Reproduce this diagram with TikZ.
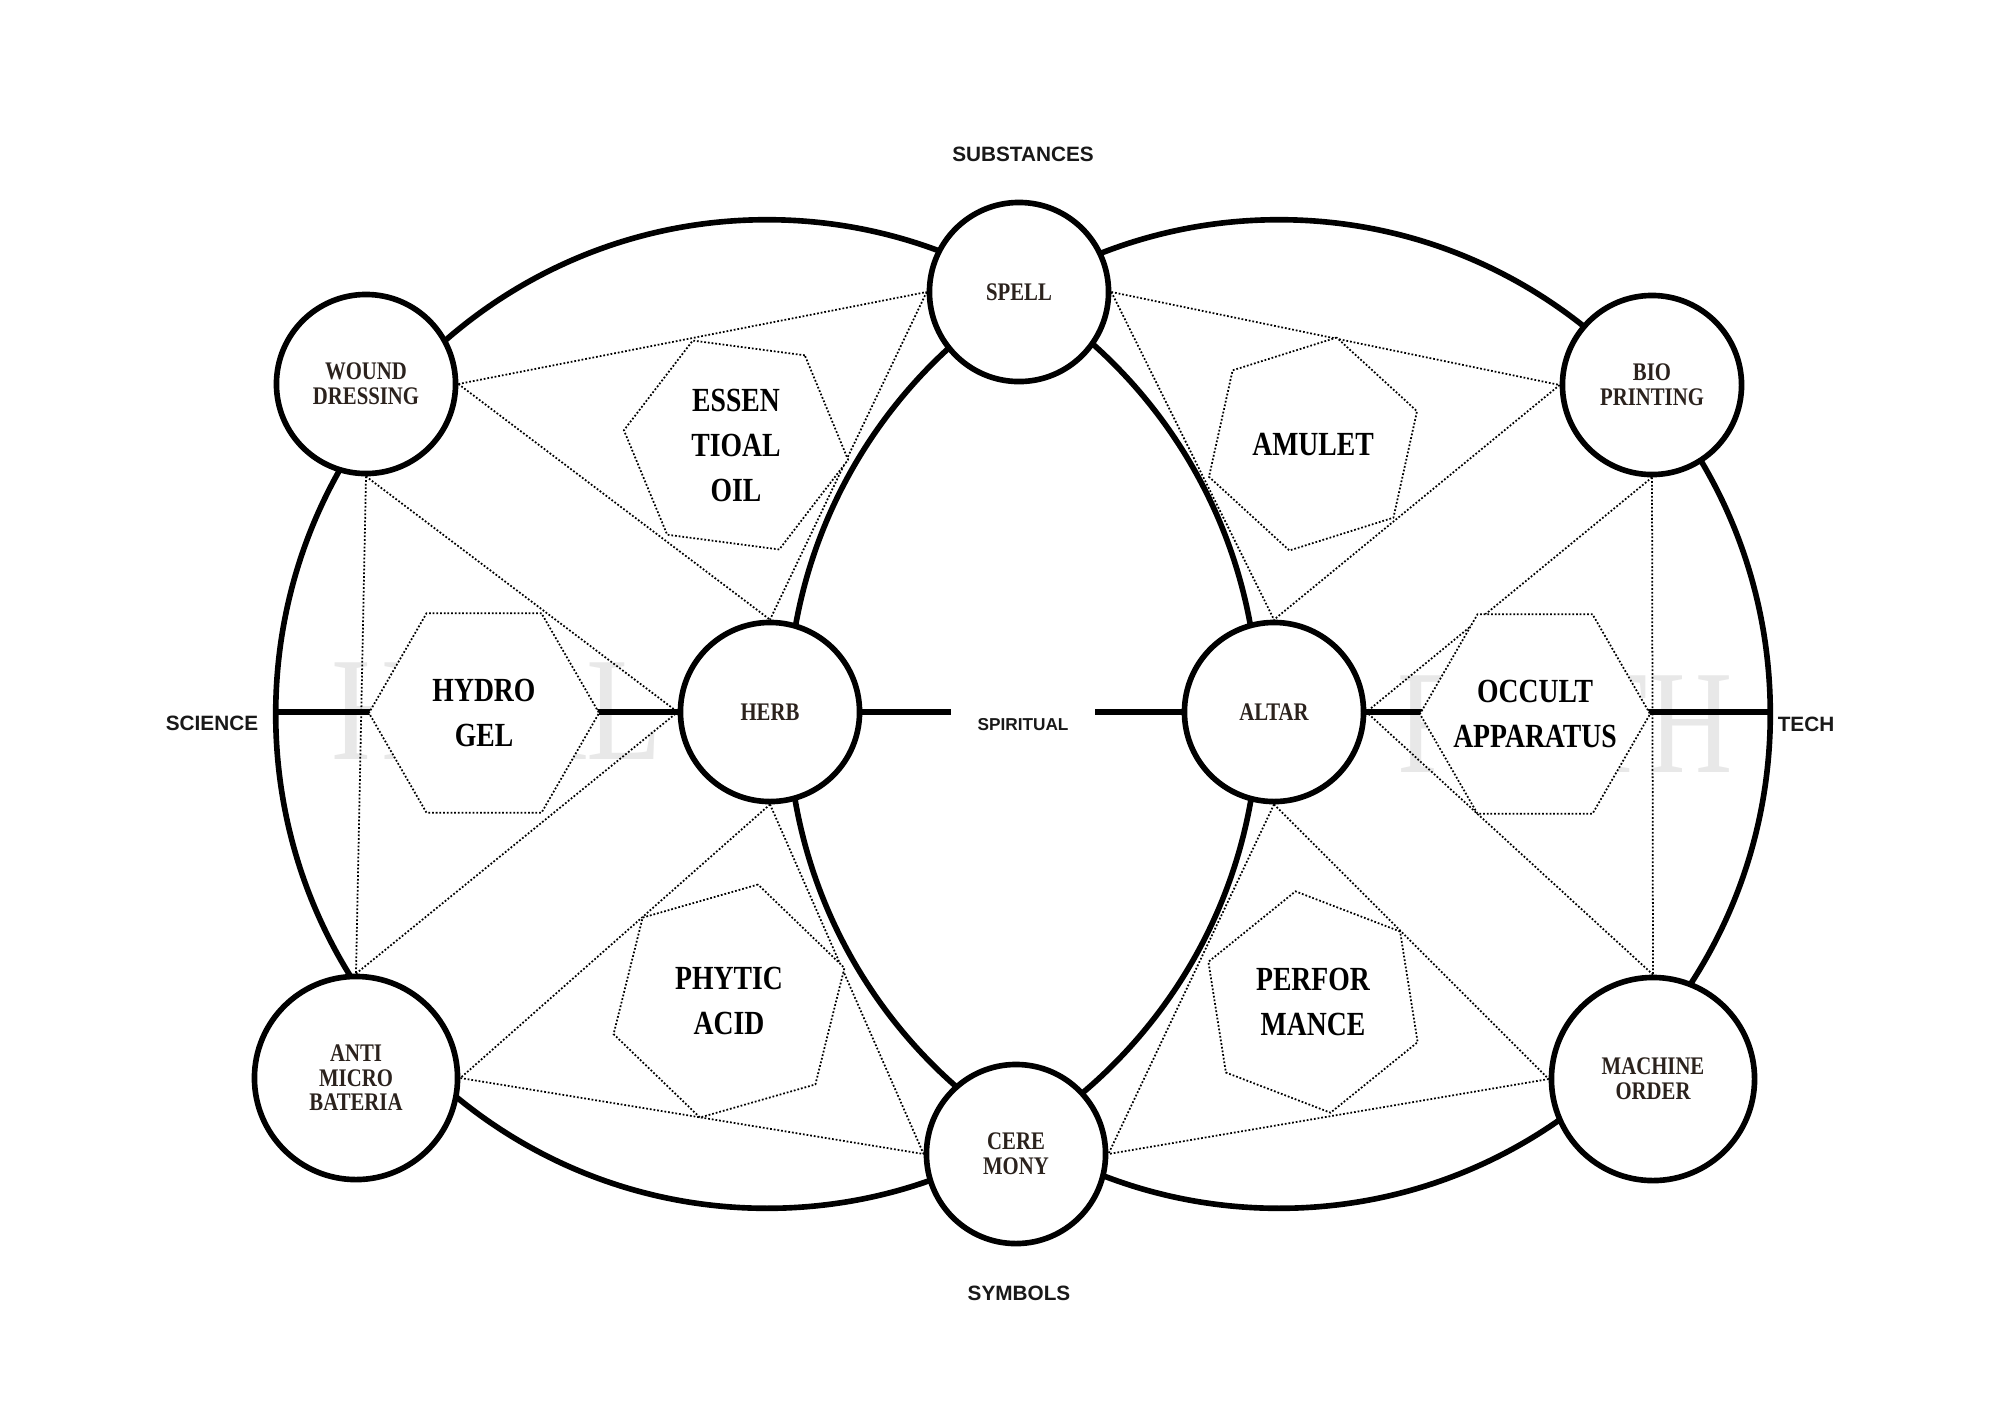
\documentclass[tikz,border=0pt]{standalone}
\usepackage{fontspec}
\usepackage[svgnames]{xcolor}
\usepackage{graphicx}
\usepackage{tikz}
\usetikzlibrary{shapes.geometric}
\newfontfamily\tagfont[FakeStretch=0.82]{Liberation Serif}
\newfontfamily\markfont{Liberation Serif}
\newfontfamily\axisfont{Liberation Sans}
\definecolor{inkbrown}{HTML}{2B221D}
\definecolor{ghostgrey}{HTML}{E8E8E8}
\pgfdeclarelayer{marklayer}
\pgfdeclarelayer{edgelayer}
\pgfdeclarelayer{hexlayer}
\pgfdeclarelayer{nodelayer}
\pgfsetlayers{marklayer,edgelayer,hexlayer,nodelayer,main}
\tikzset{
	thickline/.style={line width=1.6pt},
	dotline/.style={line width=0.5pt, dash pattern=on 0.5pt off 0.55pt},
	hub/.style={circle, draw, line width=1.6pt, fill=white, inner sep=0pt, minimum size=1.79cm, align=center, text=inkbrown, font=\tagfont\bfseries\fontsize{7.2}{7}\selectfont},
	bighub/.style={hub, minimum size=2.03cm},
	hexa/.style={regular polygon, regular polygon sides=6, draw, dotline, fill=white, inner sep=-12pt, minimum size=2.3cm, align=center, font=\tagfont\bfseries\fontsize{9.6}{12.8}\selectfont},
	axis/.style={inner sep=0pt, text=black!90, font=\axisfont\bfseries\fontsize{5.9}{6}\selectfont},
	ghost/.style={inner sep=0pt, text=ghostgrey, font=\markfont\fontsize{42}{42}\selectfont}
}
\begin{document}
\begin{tikzpicture}[x=0.01cm, y=-0.01cm]
	\useasboundingbox (0, 0) rectangle (2000, 1414);
	\begin{pgfonlayer}{marklayer}
		\fill [white] (0, 0) rectangle (2000, 1414);
		\node [style=ghost] (19) at (497, 711) {\scalebox{0.84}[1]{HEAL}};
		\node [style=ghost] (20) at (1565, 724) {\scalebox{0.79}[1]{FAITH}};
	\end{pgfonlayer}
	\begin{pgfonlayer}{nodelayer}
		\node [style=hub] (0) at (1019, 292) {SPELL};
		\node [style=hub] (1) at (366, 384) {WOUND\\DRESSING};
		\node [style=hub] (2) at (1652, 385) {BIO\\PRINTING};
		\node [style=hub] (3) at (770, 712) {HERB};
		\node [style=hub] (4) at (1274, 712) {ALTAR};
		\node [style=bighub] (5) at (356, 1078) {ANTI\\MICRO\\BATERIA};
		\node [style=bighub] (6) at (1653, 1079) {MACHINE\\ORDER};
		\node [style=hub] (7) at (1016, 1154) {CERE\\MONY};
		\node [style=axis] (14) at (1023, 154) {SUBSTANCES};
		\node [style=axis] (15) at (1019, 1293) {SYMBOLS};
		\node [style=axis] (16) at (212, 723) {SCIENCE};
		\node [style=axis] (17) at (1806, 724) {TECH};
		\node [style=axis, font=\axisfont\bfseries\fontsize{4.9}{5}\selectfont] (18) at (1023, 725) {SPIRITUAL};
		\coordinate (21) at (276, 712);
		\coordinate (22) at (1770, 712);
		\coordinate (23) at (951, 712);
		\coordinate (24) at (1095, 712);
	\end{pgfonlayer}
	\begin{pgfonlayer}{hexlayer}
		\node [style=hexa] (8) at (484, 713) {HYDRO\\GEL};
		\node [style=hexa] (9) at (1535, 714) {OCCULT\\APPARATUS};
		\node [style=hexa, minimum size=2.26cm, shape border rotate=-7.5] (10) at (736, 445) {ESSEN\\TIOAL\\OIL};
		\node [style=hexa, minimum size=2.18cm, shape border rotate=17.5] (11) at (1313, 444) {AMULET};
		\node [style=hexa, minimum size=2.4cm, shape border rotate=16] (12) at (729, 1001) {PHYTIC\\ACID};
		\node [style=hexa, minimum size=2.24cm, shape border rotate=-21] (13) at (1313, 1002) {PERFOR\\MANCE};
	\end{pgfonlayer}
	\begin{pgfonlayer}{edgelayer}
		\draw [style=thickline] (767, 714) ellipse [x radius=4.91cm, y radius=4.94cm];
		\draw [style=thickline] (1279, 714) ellipse [x radius=4.91cm, y radius=4.94cm];
		\draw [style=thickline] (21) to (3.west);
		\draw [style=thickline] (3.east) to (23);
		\draw [style=thickline] (24) to (4.west);
		\draw [style=thickline] (4.east) to (22);
		\draw [style=dotline] (1.east) to (0.west);
		\draw [style=dotline] (1.east) to (3.north);
		\draw [style=dotline] (0.west) to (3.north);
		\draw [style=dotline] (1.south) to (3.west);
		\draw [style=dotline] (1.south) to (5.north);
		\draw [style=dotline] (5.north) to (3.west);
		\draw [style=dotline] (3.south) to (5.east);
		\draw [style=dotline] (3.south) to (7.west);
		\draw [style=dotline] (5.east) to (7.west);
		\draw [style=dotline] (0.east) to (2.west);
		\draw [style=dotline] (0.east) to (4.north);
		\draw [style=dotline] (2.west) to (4.north);
		\draw [style=dotline] (2.south) to (4.east);
		\draw [style=dotline] (2.south) to (6.north);
		\draw [style=dotline] (6.north) to (4.east);
		\draw [style=dotline] (4.south) to (7.east);
		\draw [style=dotline] (4.south) to (6.west);
		\draw [style=dotline] (6.west) to (7.east);
	\end{pgfonlayer}
\end{tikzpicture}
\end{document}
